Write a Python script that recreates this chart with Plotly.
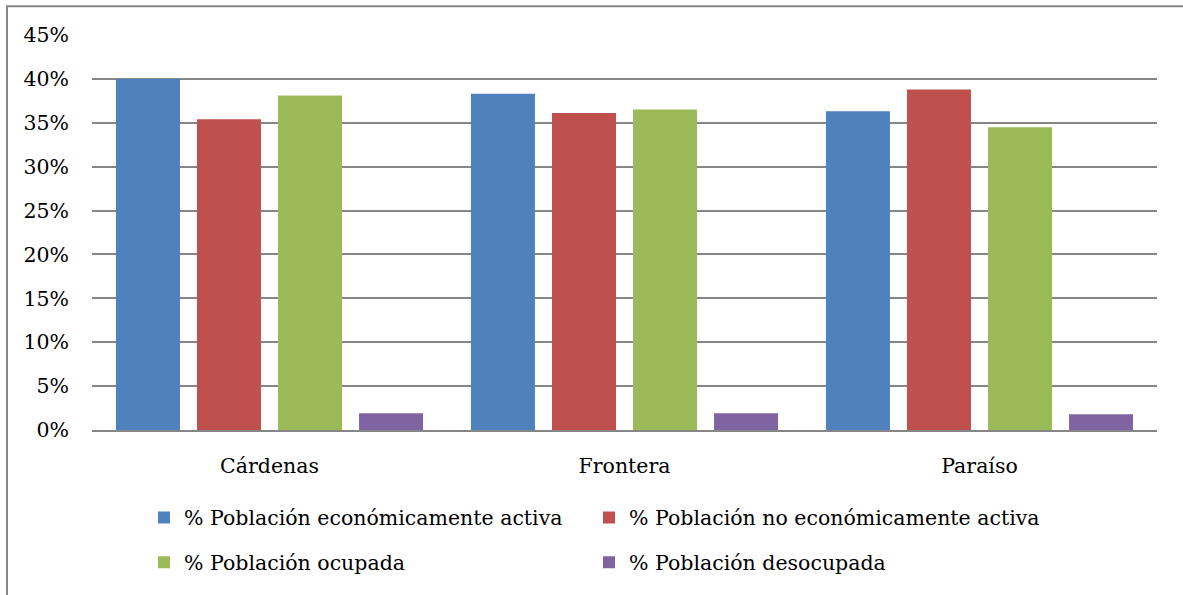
import plotly.graph_objects as go

categories = ["Cárdenas", "Frontera", "Paraíso"]
series_names = [
    "% Población económicamente activa",
    "% Población no económicamente activa",
    "% Población ocupada",
    "% Población desocupada",
]
pea = [0.400, 0.383, 0.363]
pnea = [0.354, 0.361, 0.388]
ocupada = [0.381, 0.365, 0.345]
desocupada = [0.019, 0.019, 0.018]
colors = ["#4F81BD", "#C0504D", "#9BBB59", "#8064A2"]
y_ticks = [0, 0.05, 0.10, 0.15, 0.20, 0.25, 0.30, 0.35, 0.40, 0.45]

FONT = "DejaVu Serif"
FS = 20.5
W, H = 1183, 595
ML, MR, MT, MB = 92, 26, 35, 163

fig = go.Figure()
values = [pea, pnea, ocupada, desocupada]
legend_ids = ["legend", "legend2", "legend3", "legend4"]
for name, vals, col, lg in zip(series_names, values, colors, legend_ids):
    fig.add_trace(go.Bar(
        x=categories, y=vals, name=name, marker_color=col,
        marker_line_width=0, legend=lg,
    ))

pw = W - ML - MR
ph = H - MT - MB
def px_x(p):
    return (p - ML) / pw
def px_y(p):
    return (H - MB - p) / ph

legend_pos = [(144, 500), (589, 500), (144, 545), (589, 545)]
legend_layout = {}
for lg, (lx, ly) in zip(legend_ids, legend_pos):
    legend_layout[lg] = dict(x=px_x(lx), xanchor="left", y=px_y(ly), yanchor="top",
                             font=dict(size=FS), itemwidth=30,
                             bgcolor="rgba(0,0,0,0)")

fig.update_layout(
    width=W, height=H,
    margin=dict(l=ML, r=MR, t=MT, b=MB),
    paper_bgcolor="white", plot_bgcolor="white",
    barmode="group", bargap=0.087, bargroupgap=0.21,
    font=dict(family=FONT, size=FS, color="#000000"),
    xaxis=dict(showgrid=False, showline=True, linecolor="#868686", linewidth=2,
               ticks="", tickfont=dict(size=FS), ticklabelstandoff=16),
    yaxis=dict(range=[0, 0.45], tickvals=y_ticks, tickformat=".0%",
               showgrid=True, gridcolor="#868686", gridwidth=1.5,
               zeroline=False, showline=False, ticks="",
               tickfont=dict(size=FS), ticklabelstandoff=22),
    showlegend=True,
    shapes=[dict(type="rect", xref="paper", yref="paper",
                 x0=px_x(7), x1=px_x(1300), y0=px_y(700), y1=px_y(6),
                 line=dict(color="#868686", width=2), fillcolor="rgba(0,0,0,0)",
                 layer="below")],
    **legend_layout,
)

fig.write_html("out.html", config={"displayModeBar": False},
               post_script="document.body.style.margin='0';document.body.style.overflow='hidden';")
